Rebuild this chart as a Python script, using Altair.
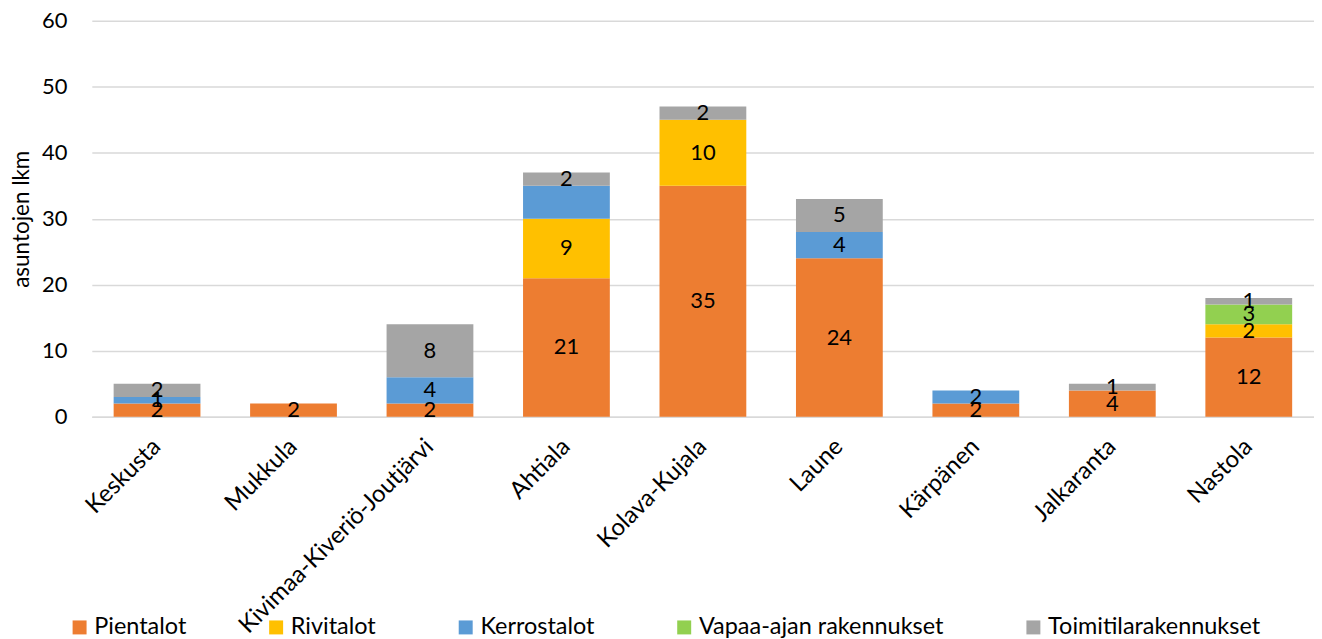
import altair as alt
import pandas as pd

areas = ["Keskusta", "Mukkula", "Kivimaa-Kiveriö-Joutjärvi", "Ahtiala", "Kolava-Kujala",
         "Laune", "Kärpänen", "Jalkaranta", "Nastola"]
series = ["Pientalot", "Rivitalot", "Kerrostalot", "Vapaa-ajan rakennukset", "Toimitilarakennukset"]
colors = ["#ED7D31", "#FFC000", "#5B9BD5", "#92D050", "#A5A5A5"]

pientalot = [2, 2, 2, 21, 35, 24, 2, 4, 12]
rivitalot = [0, 0, 0, 9, 10, 0, 0, 0, 2]
kerrostalot = [1, 0, 4, 5, 0, 4, 2, 0, 0]
vapaa = [0, 0, 0, 0, 0, 0, 0, 0, 3]
toimitila = [2, 0, 8, 2, 2, 5, 0, 1, 1]
# segments whose value label is not shown in the original
hidden_labels = [("Ahtiala", "Kerrostalot")]

rows = []
for si, (s, vals) in enumerate(zip(series, [pientalot, rivitalot, kerrostalot, vapaa, toimitila])):
    for a, v in zip(areas, vals):
        if v > 0:
            rows.append({"area": a, "series": s, "order": si, "value": v,
                         "label": "" if (a, s) in hidden_labels else str(v)})
df = pd.DataFrame(rows)

FONT = "Lato"
FS = 22

base = alt.Chart(df)

bars = base.mark_bar().encode(
    x=alt.X("area:N", sort=areas, title=None,
            scale=alt.Scale(paddingInner=0.364, paddingOuter=0.16),
            axis=alt.Axis(labelAngle=-45, labelAlign="right", labelBaseline="middle",
                          labelFontSize=24, labelFont=FONT, labelColor="#000000",
                          ticks=False, domainColor="#d9d9d9", domainWidth=1.5,
                          labelPadding=26, labelLimit=500)),
    y=alt.Y("value:Q", stack="zero", title="asuntojen lkm",
            scale=alt.Scale(domain=[0, 60], nice=False),
            axis=alt.Axis(values=[0, 10, 20, 30, 40, 50, 60], labelFontSize=FS,
                          labelFont=FONT, labelColor="#000000", ticks=False, domain=False,
                          gridColor="#d9d9d9", gridWidth=1.5, titleFont=FONT,
                          titleFontSize=22.5, titleFontWeight="normal", titleColor="#000000",
                          labelPadding=25, titlePadding=8)),
    color=alt.Color("series:N", sort=series,
                    scale=alt.Scale(domain=series, range=colors),
                    legend=alt.Legend(title=None, orient="none", legendX=-24, legendY=596,
                                      direction="horizontal",
                                      symbolType="square", symbolSize=196, symbolStrokeWidth=0,
                                      labelFontSize=23.5, labelFont=FONT, labelColor="#000000",
                                      columnPadding=78, labelOffset=3, labelLimit=500)),
    order=alt.Order("order:Q"),
)

text = base.transform_stack(
    stack="value", groupby=["area"], as_=["v0", "v1"],
    sort=[alt.SortField("order", order="ascending")]
).transform_calculate(
    mid="(datum.v0 + datum.v1) / 2"
).mark_text(fontSize=FS, font=FONT, color="#000000", baseline="middle").encode(
    x=alt.X("area:N", sort=areas),
    y=alt.Y("mid:Q"),
    text="label:N",
)

chart = alt.layer(bars, text).properties(
    width=1225, height=397,
    padding={"left": 2, "top": 1, "right": 0, "bottom": 0},
).configure_view(stroke=None)

chart.save("out.html", embed_options={"renderer": "svg", "actions": False})
